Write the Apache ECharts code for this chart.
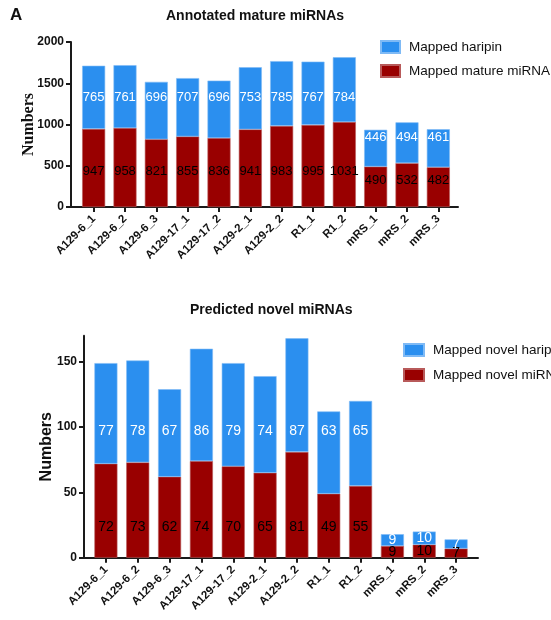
<!DOCTYPE html>
<html>
<head>
<meta charset="utf-8">
<script src="https://cdn.jsdelivr.net/npm/echarts@6/dist/echarts.min.js"></script>
<style>
html,body{margin:0;padding:0;background:#fff;}
#c{width:551px;height:620px;}
</style>
</head>
<body>
<div id="c"></div>
<script>
// ---- data ----
const samples = ['A129-6_1','A129-6_2','A129-6_3','A129-17_1','A129-17_2','A129-2_1','A129-2_2','R1_1','R1_2','mRS_1','mRS_2','mRS_3'];
const matureMiRNA = [947, 958, 821, 855, 836, 941, 983, 995, 1031, 490, 532, 482];
const matureHairpin = [765, 761, 696, 707, 696, 753, 785, 767, 784, 446, 494, 461];
const novelMiRNA = [72, 73, 62, 74, 70, 65, 81, 49, 55, 9, 10, 7];
const novelHairpin = [77, 78, 67, 86, 79, 74, 87, 63, 65, 9, 10, 7];
const topTicks = [0, 500, 1000, 1500, 2000];
const bottomTicks = [0, 50, 100, 150];

// ---- style / layout ----
const BLUE = '#2b8fef';
const RED = '#990000';
const AXIS = '#1a1a1a';
const SANS = 'Liberation Sans, Arial, sans-serif';
const SERIF = 'Liberation Serif, Times New Roman, serif';

// grid geometry
const G1 = {left: 78, top: 42, width: 376, height: 165, max: 2000};
const G2 = {left: 90, top: 335.7, width: 382, height: 222, max: 170};

// label placement: label centre height above baseline (px) for tall / short bars
function labelled(values, base, grid, levelBig, levelSmall, threshold, inSmall) {
  const k = grid.height / grid.max;
  return values.map((v, i) => {
    const b = base ? base[i] : 0;
    const total = b + v;
    const mid = (b + v / 2) * k;
    const big = total >= threshold;
    let dy = 0;
    if (big) dy = mid - levelBig;
    else if (!inSmall) dy = mid - levelSmall;
    return {value: v, label: {offset: [0, dy]}};
  });
}

const chart = echarts.init(document.getElementById('c'), null, {renderer: 'canvas'});

function yAxisCommon(grid, idx, name, nameFont, nameGap, offset, interval, ticks) {
  return {
    type: 'value', gridIndex: idx, min: 0, max: grid.max, interval: interval,
    offset: offset,
    name: name, nameLocation: 'middle', nameGap: nameGap, nameRotate: 90, nameMoveOverlap: false,
    nameTextStyle: {fontFamily: nameFont, fontWeight: 'bold', fontSize: 16, color: '#111'},
    axisLine: {show: true, lineStyle: {color: AXIS, width: 2}},
    axisTick: {show: true, inside: false, length: 5, lineStyle: {color: AXIS, width: 2}, customValues: ticks},
    axisLabel: {fontFamily: SANS, fontWeight: 'bold', fontSize: 12, color: '#111', margin: 7,
                customValues: ticks, formatter: v => String(v)},
    splitLine: {show: false}
  };
}

function xAxisCat(idx) {
  return {
    type: 'category', gridIndex: idx, data: samples,
    axisLine: {show: false},
    axisTick: {show: true, alignWithLabel: true, length: 5, lineStyle: {color: AXIS, width: 2}},
    axisLabel: {rotate: 45, interval: 0, fontFamily: SANS, fontWeight: 'bold', fontSize: 11.5, color: '#111', margin: 10}
  };
}
function xAxisLine(idx) {
  return {
    type: 'value', gridIndex: idx, min: 0, max: 1,
    axisLine: {show: true, onZero: false, lineStyle: {color: AXIS, width: 2}},
    axisTick: {show: false}, axisLabel: {show: false}, splitLine: {show: false}
  };
}
function yAxisHidden(idx) {
  return {type: 'value', gridIndex: idx, min: 0, max: 1, show: false};
}

const valLabel = (color, size) => ({
  show: true, position: 'inside', color: color, fontFamily: SANS, fontSize: size
});

const legendText = {fontFamily: SANS, fontSize: 13.5, color: '#111', padding: [0, 0, 0, 4]};

const option = {
  animation: false,
  backgroundColor: '#fff',
  title: [
    {text: 'A', left: 5, top: 2, textStyle: {fontFamily: SANS, fontWeight: 'bold', fontSize: 17, color: '#111'}},
    {text: 'Annotated mature miRNAs', left: 161, top: 4, textStyle: {fontFamily: SANS, fontWeight: 'bold', fontSize: 14, color: '#111'}},
    {text: 'Predicted novel miRNAs', left: 185, top: 298, textStyle: {fontFamily: SANS, fontWeight: 'bold', fontSize: 14, color: '#111'}}
  ],
  legend: [
    {orient: 'vertical', left: 375, top: 35, itemWidth: 19, itemHeight: 12, itemGap: 10, icon: 'rect',
     data: ['Mapped haripin', 'Mapped mature miRNA'], textStyle: legendText},
    {orient: 'vertical', left: 398, top: 338, itemWidth: 20, itemHeight: 12, itemGap: 11, icon: 'rect',
     data: ['Mapped novel haripin', 'Mapped novel miRNA'], textStyle: legendText}
  ],
  grid: [
    {left: G1.left, top: G1.top, width: G1.width, height: G1.height},
    {left: G2.left, top: G2.top, width: G2.width, height: G2.height},
    {left: 71, top: G1.top, width: 387, height: G1.height},
    {left: 84, top: G2.top, width: 394, height: G2.height}
  ],
  xAxis: [xAxisCat(0), xAxisCat(1), xAxisLine(2), xAxisLine(3)],
  yAxis: [
    yAxisCommon(G1, 0, 'Numbers', SERIF, 34, 7, 500, topTicks),
    yAxisCommon(G2, 1, 'Numbers', SANS, 29, 6, 50, bottomTicks),
    yAxisHidden(2), yAxisHidden(3)
  ],
  series: [
    {name: 'Mapped mature miRNA', type: 'bar', stack: 'a', xAxisIndex: 0, yAxisIndex: 0, barWidth: 23,
     itemStyle: {color: RED, borderColor: '#b85a5a', borderWidth: 0.6},
     label: valLabel('#000', 13),
     data: labelled(matureMiRNA, null, G1, 36, 27, 700, false)},
    {name: 'Mapped haripin', type: 'bar', stack: 'a', xAxisIndex: 0, yAxisIndex: 0, barWidth: 23,
     itemStyle: {color: BLUE, borderColor: '#7fbaf5', borderWidth: 0.6},
     label: valLabel('#fff', 13),
     data: labelled(matureHairpin, matureMiRNA, G1, 110, 70, 1200, false)},
    {name: 'Mapped novel miRNA', type: 'bar', stack: 'b', xAxisIndex: 1, yAxisIndex: 1, barWidth: 23,
     itemStyle: {color: RED, borderColor: '#b85a5a', borderWidth: 0.6},
     label: valLabel('#000', 14),
     data: labelled(novelMiRNA, null, G2, 31, 0, 30, true)},
    {name: 'Mapped novel haripin', type: 'bar', stack: 'b', xAxisIndex: 1, yAxisIndex: 1, barWidth: 23,
     itemStyle: {color: BLUE, borderColor: '#7fbaf5', borderWidth: 0.6},
     label: valLabel('#fff', 14),
     data: labelled(novelHairpin, novelMiRNA, G2, 127, 0, 50, true)}
  ]
};
chart.setOption(option);
</script>
</body>
</html>
